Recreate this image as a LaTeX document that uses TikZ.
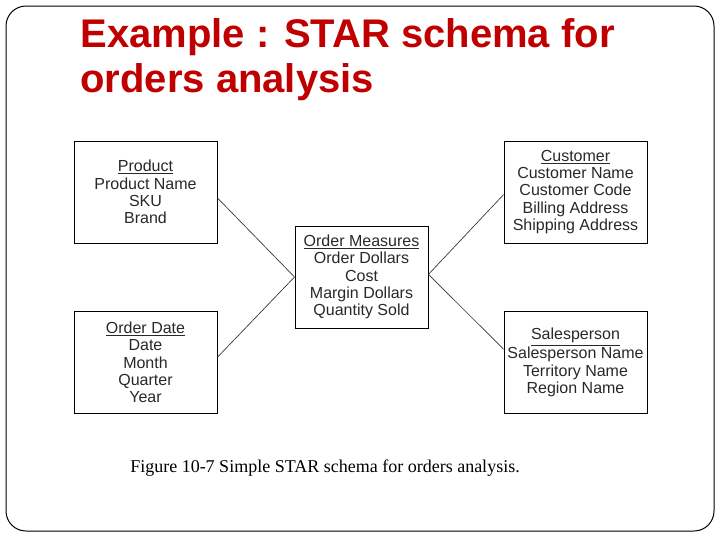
\documentclass[tikz,border=0pt]{standalone}
\usepackage{fontspec}
\setmainfont{Liberation Serif}
\newfontfamily\arialfont{Liberation Sans}
\usetikzlibrary{positioning}

\definecolor{titlered}{RGB}{192,0,0}
\definecolor{scangray}{RGB}{40,40,40}

\tikzset{every picture/.style={line width=0.75pt}}
\tikzset{
  tablebox/.style={draw=black, line width=0.75pt, minimum width=107.25pt, minimum height=76.5pt,
    align=center, inner sep=0pt, text=scangray,
    font=\arialfont\fontsize{12}{13}\selectfont},
  link/.style={draw=black!80, line width=0.5pt}
}

\begin{document}
\begin{tikzpicture}[x=0.75pt,y=0.75pt,yscale=-1,xscale=1]
\useasboundingbox (0,0) rectangle (720,540);

%Shape: Rounded Rect [id:frame]
\draw [line width=0.75pt, rounded corners=15pt] (6,6) rectangle (714,531);

% Text Node
\node (title1) [anchor=base west, inner sep=0pt, text=titlered, font=\arialfont\bfseries\fontsize{30}{34}\selectfont] at (80,47) {Example : STAR schema for};
% Text Node
\node (title2) [anchor=base west, inner sep=0pt, text=titlered, font=\arialfont\bfseries\fontsize{30}{34}\selectfont] at (80,92) {orders analysis};

%Shape: Rectangle [id:fact]
\node (fact) [tablebox, minimum width=99.75pt] at (361.5,277) {\underline{Order Measures}\\Order Dollars\\Cost\\Margin Dollars\\Quantity Sold};
%Shape: Rectangle [id:product]
\node (prod) [tablebox] at (145.5,192) {\underline{Product}\\Product Name\\SKU\\Brand};
%Shape: Rectangle [id:customer]
\node (cust) [tablebox] at (575.5,192) {\underline{Customer}\\Customer Name\\Customer Code\\Billing Address\\Shipping Address};
%Shape: Rectangle [id:orderdate]
\node (odate) [tablebox] at (145.5,362.5) {\underline{Order Date}\\Date\\Month\\Quarter\\Year};
%Shape: Rectangle [id:salesperson]
\node (sales) [tablebox] at (575.5,362.5) {\underline{Salesperson}\\Salesperson Name\\Territory Name\\Region Name};

%Straight Lines [id:links]
\draw [link] ([yshift=4.5pt]prod.east) -- (fact.west);
\draw [link] ([yshift=-4pt]odate.east) -- (fact.west);
\draw [link] ([yshift=2pt]cust.west) -- ([yshift=-2pt]fact.east);
\draw [link] ([yshift=-10pt]sales.west) -- ([yshift=-2pt]fact.east);

% Text Node
\node (caption) [anchor=base, inner sep=0pt, font=\fontsize{13.5}{16}\selectfont] at (325,472) {Figure 10-7 Simple STAR schema for orders analysis.};

\end{tikzpicture}
\end{document}
